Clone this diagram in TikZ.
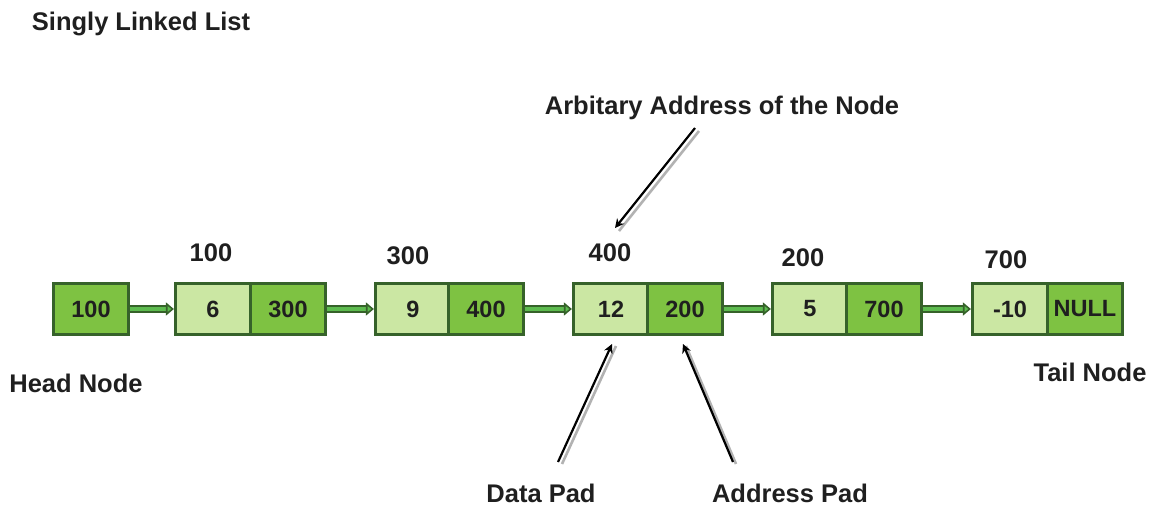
\documentclass[tikz,border=0pt]{standalone}
\usepackage{fontspec}
\setmainfont{Liberation Sans}
\usetikzlibrary{arrows.meta}
\definecolor{cdark}{HTML}{7EC242}
\definecolor{clight}{HTML}{CBE7A3}
\definecolor{cedge}{HTML}{36622A}
\definecolor{carrow}{HTML}{5DBB4F}
\tikzset{
  cell/.style={draw=cedge, line width=2.2pt, minimum width=75pt, minimum height=51pt,
    inner sep=0pt, font=\fontsize{23.5}{27}\selectfont\bfseries, text=black!88},
  dcell/.style={cell, fill=clight},
  acell/.style={cell, fill=cdark},
  lbl/.style={font=\fontsize{25.5}{29}\selectfont\bfseries, text=black!88, inner sep=0pt},
  link/.style={draw=cedge, line width=1.6pt, double=carrow, double distance=4pt,
    -{Triangle[length=8pt, width=13pt, fill=carrow]}, shorten >=0.5pt},
  pointer/.style={draw=black, line width=2.2pt, -{Stealth[length=9pt, width=9pt]}},
  shade/.style={draw=black!30, line width=2.6pt}
}
\begin{document}
\begin{tikzpicture}[x=1pt, y=-1pt]
\useasboundingbox (0,0) rectangle (1172,506);
% cells
\node[acell] (h) at (91,309) {100};
\node[dcell] (n1d) at (213,309) {6};
\node[acell] (n1a) at (288,309) {300};
\node[dcell] (n2d) at (413,309) {9};
\node[acell] (n2a) at (486,309) {400};
\node[dcell] (n3d) at (611,309) {12};
\node[acell] (n3a) at (685,309) {200};
\node[dcell] (n4d) at (810,309) {5};
\node[acell] (n4a) at (884,309) {700};
\node[dcell] (n5d) at (1010,309) {-10};
\node[acell] (n5a) at (1085,309) {NULL};
% links
\draw[link] (h.east) -- (n1d.west);
\draw[link] (n1a.east) -- (n2d.west);
\draw[link] (n2a.east) -- (n3d.west);
\draw[link] (n3a.east) -- (n4d.west);
\draw[link] (n4a.east) -- (n5d.west);
% address labels
\node[lbl] (a1) at (211,253) {100};
\node[lbl] (a2) at (408,256) {300};
\node[lbl] (a3) at (610,253) {400};
\node[lbl] (a4) at (803,258) {200};
\node[lbl] (a5) at (1006,260) {700};
% titles
\node[lbl] (title) at (141,24) {Singly Linked List};
\node[lbl] (head) at (76,383) {Head Node};
\node[lbl] (tail) at (1090,372) {Tail Node};
\node[lbl] (arb) at (722,108) {Arbitary Address of the Node};
\node[lbl, anchor=base] (dp) at (541,502) {Data Pad};
\node[lbl, anchor=base] (ap) at (790,502) {Address Pad};
% pointer ends
\coordinate (arbS) at (695,128);
\coordinate (arbE) at (615,228);
\coordinate (dpS) at (558,462);
\coordinate (dpE) at (612,344);
\coordinate (apS) at (733,462);
\coordinate (apE) at (683,344);
% shadows
\draw[shade] ([shift={(4,3)}]arbS) -- ([shift={(4,3)}]arbE);
\draw[shade] ([shift={(4,2)}]dpS) -- ([shift={(4,2)}]dpE);
\draw[shade] ([shift={(3,2)}]apS) -- ([shift={(3,2)}]apE);
% pointers
\draw[pointer] (arbS) -- (arbE);
\draw[pointer] (dpS) -- (dpE);
\draw[pointer] (apS) -- (apE);
\end{tikzpicture}
\end{document}
